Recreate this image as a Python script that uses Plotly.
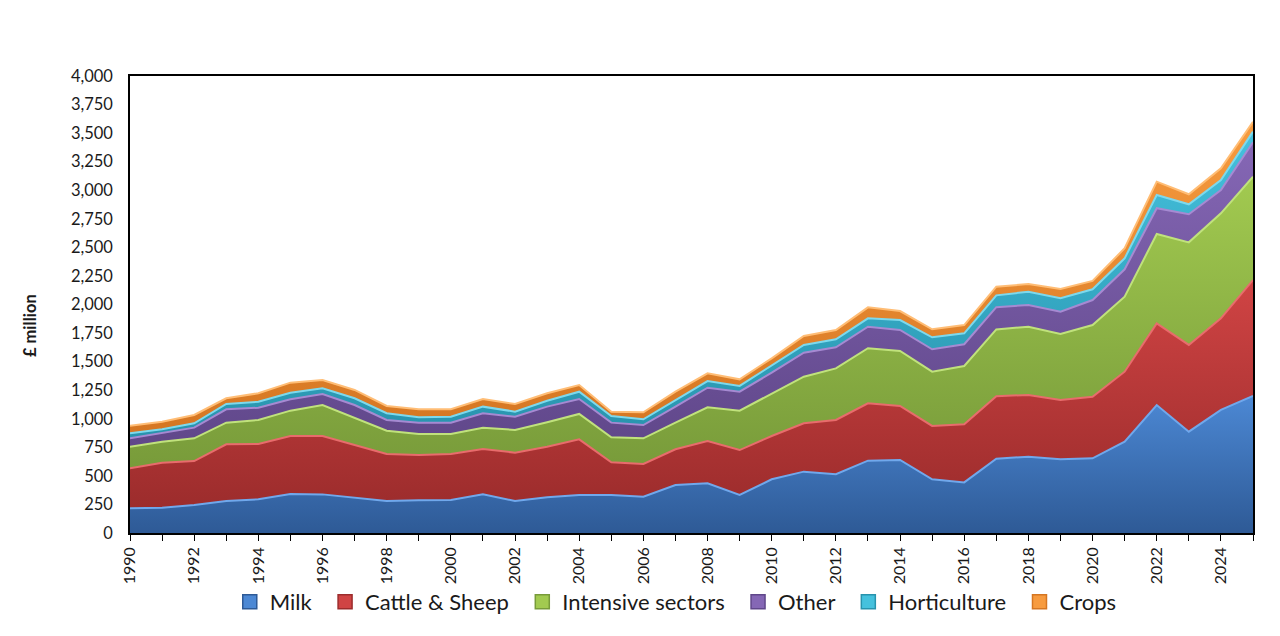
import plotly.graph_objects as go

years = list(range(1990, 2026))

milk = [216, 221, 245, 280, 295, 341, 338, 309, 280, 286, 289, 338, 280, 312, 333, 333, 318, 420,
        435, 333, 470, 537, 514, 633, 639, 470, 443, 650, 668, 645, 654, 799, 1120, 887, 1077, 1199]
cattle_sheep = [350, 394, 385, 496, 484, 508, 511, 461, 411, 397, 402, 397, 423, 443, 487, 286, 286, 313,
                370, 393, 379, 423, 475, 502, 473, 467, 508, 548, 540, 519, 539, 613, 715, 759, 802, 1015]
intensive = [189, 184, 199, 190, 210, 222, 271, 239, 204, 184, 176, 187, 199, 214, 222, 219, 225, 233,
             295, 345, 368, 408, 452, 482, 481, 475, 511, 584, 598, 578, 627, 656, 782, 898, 919, 905]
other = [74, 74, 93, 117, 108, 99, 97, 111, 94, 99, 99, 126, 116, 137, 131, 128, 116, 140,
         172, 166, 186, 210, 184, 189, 184, 196, 190, 195, 190, 195, 219, 240, 226, 246, 204, 301]
horticulture = [44, 35, 38, 46, 52, 58, 49, 59, 59, 47, 52, 58, 44, 52, 64, 58, 50, 58,
                58, 50, 67, 68, 71, 73, 87, 105, 96, 103, 116, 117, 94, 96, 115, 87, 88, 93]
crops = [66, 66, 73, 50, 74, 88, 73, 73, 64, 70, 65, 67, 67, 65, 58, 38, 61, 73,
         68, 58, 59, 78, 81, 96, 79, 70, 72, 76, 67, 82, 73, 88, 117, 88, 102, 87]

series = [
    ("Milk", milk, "#3E74BA", "#2E5A96", "#4C88D4", "#70A8EC"),
    ("Cattle & Sheep", cattle_sheep, "#B83838", "#9C2C2C", "#D04444", "#E86C6C"),
    ("Intensive sectors", intensive, "#8FB645", "#789B3A", "#A2CA50", "#C0E27C"),
    ("Other", other, "#7658A3", "#60478A", "#8567B5", "#A68AD2"),
    ("Horticulture", horticulture, "#36B0CC", "#2893AD", "#45C1DD", "#7DD9ED"),
    ("Crops", crops, "#EF8B2D", "#D57622", "#F79B3F", "#FFBD75"),
]

fig = go.Figure()
for name, vals, base, dark, light, edge in series:
    fig.add_trace(go.Scatter(
        x=years, y=vals, name=name, mode="lines", stackgroup="one",
        line=dict(color=edge, width=2),
        fillcolor=base,
        fillgradient=dict(type="vertical", colorscale=[[0, dark], [1, light]]),
        hoverinfo="x+y+name", showlegend=False,
    ))
# legend entries as square markers (padding keeps Excel-like spacing between entries)
pad = "\u00a0\u2009"
for i, (name, vals, base, dark, light, edge) in enumerate(series):
    label = name if i == len(series) - 1 else name + pad
    fig.add_trace(go.Scatter(
        x=[None], y=[None], name=label, mode="markers",
        marker=dict(symbol="square", size=14, color=light, line=dict(color=dark, width=1.5)),
        showlegend=True,
    ))

fig.update_layout(
    width=1280, height=636,
    margin=dict(l=122, r=35, t=68, b=111),
    paper_bgcolor="white", plot_bgcolor="white",
    font=dict(family="Lato, Carlito, Calibri, sans-serif", color="#1a1a1a"),
    showlegend=True,
    legend=dict(orientation="h", traceorder="normal", x=0.486, xanchor="center",
                y=-0.105, yanchor="top", bgcolor="rgba(0,0,0,0)",
                font=dict(size=22, color="#1a1a1a"), itemwidth=30, tracegroupgap=0),
    annotations=[dict(
        text="<b>£ million</b>", xref="paper", yref="paper", x=-0.089, y=0.453,
        textangle=-90, showarrow=False, xanchor="center", yanchor="middle",
        font=dict(size=16.5, color="#1a1a1a"),
    )],
)
fig.update_xaxes(
    range=[1990, 2025], dtick=2, tick0=1990, tickangle=-90,
    ticks="outside", ticklen=6, tickwidth=1.3, tickcolor="black",
    minor=dict(dtick=1, ticks="outside", ticklen=6, tickwidth=1.3, tickcolor="black"),
    showline=True, linecolor="black", linewidth=1.5, mirror=True,
    showgrid=False, zeroline=False,
    tickfont=dict(size=16, color="#1a1a1a"),
)
fig.update_yaxes(
    range=[0, 4000], dtick=250, tickformat=",",
    ticks="", ticklabelstandoff=12,
    showline=True, linecolor="black", linewidth=1.5, mirror=True,
    showgrid=False, zeroline=False,
    tickfont=dict(size=16.5, color="#1a1a1a"),
)

fig.write_html("out.html")
